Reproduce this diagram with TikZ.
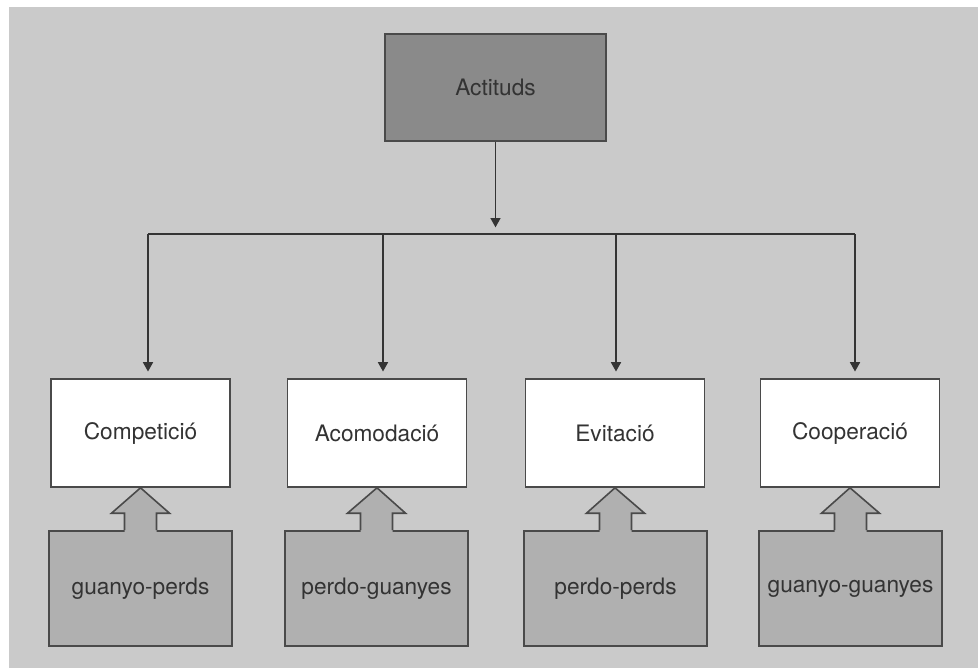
\documentclass[tikz,border=0pt]{standalone}
\usepackage{fontspec}
\setmainfont{TeX Gyre Heros}
\usetikzlibrary{arrows.meta,calc}
\definecolor{bgGrey}{HTML}{CACACA}
\definecolor{topGrey}{HTML}{8A8A8A}
\definecolor{lowGrey}{HTML}{B0B0B0}
\definecolor{edgeGrey}{HTML}{4A4A4A}
\definecolor{txtGrey}{HTML}{333333}
\tikzset{
  box/.style={draw=edgeGrey,line width=1.2pt,inner sep=0pt,text=txtGrey,
    font=\fontsize{17}{20}\selectfont},
  topbox/.style={box,fill=topGrey,minimum width=165.75pt,minimum height=80.25pt},
  attbox/.style={box,fill=white,minimum width=134.25pt,minimum height=81pt},
  lowbox/.style={box,fill=lowGrey,minimum width=137.25pt,minimum height=86.25pt},
  conn/.style={draw=edgeGrey!70!black,line width=1.2pt},
  arr/.style={conn,-{Triangle[length=7pt,width=7.5pt]},shorten >=5pt}
}
\begin{document}
\begin{tikzpicture}[x=0.75pt,y=0.75pt,yscale=-1,xscale=1]
\path[use as bounding box] (0,0) rectangle (978,668);

%Background
\fill[bgGrey] (9,7) rectangle (978,668);

%Top box
\node[topbox] (act) at (495.5,87.5) {Actituds};

%Attitudes
\node[attbox] (comp) at (140.5,433) {Competició};
\node[attbox] (acom) at (377,433) {Acomodació};
\node[attbox] (evit) at (615,433) {Evitació};
\node[attbox] (coop) at (850,433) {Cooperació};

%Results
\node[lowbox] (gp) at (140.5,588.5) {guanyo-perds};
\node[lowbox] (pg) at (376.5,588.5) {perdo-guanyes};
\node[lowbox] (pp) at (615.5,588.5) {perdo-perds};
\node[lowbox] (gg) at (850.5,588.5) {guanyo-guanyes};

%Bus
\coordinate (b1) at (148,234);
\coordinate (b2) at (383,234);
\coordinate (b3) at (616,234);
\coordinate (b4) at (855,234);
\draw[conn] (b1) -- (b4);
\draw[arr] (act.south) -- (act.south |- b1);
\draw[arr] (b1) -- (b1 |- comp.north);
\draw[arr] (b2) -- (b2 |- acom.north);
\draw[arr] (b3) -- (b3 |- evit.north);
\draw[arr] (b4) -- (b4 |- coop.north);

%Block arrows
\foreach \up/\lo in {comp/gp,acom/pg,evit/pp,coop/gg}{
  \fill[lowGrey] ($(\lo.north)+(-16,2)$) -- ++(0,-19) -- ++(-13,0) -- (\up.south)
    -- ($(\lo.north)+(29,-17)$) -- ++(-13,0) -- ++(0,19) -- cycle;
  \draw[conn,draw=edgeGrey,line join=miter] ($(\lo.north)+(-16,0)$) -- ++(0,-17) -- ++(-13,0) -- (\up.south)
    -- ($(\lo.north)+(29,-17)$) -- ++(-13,0) -- ++(0,17);
}

\end{tikzpicture}
\end{document}
